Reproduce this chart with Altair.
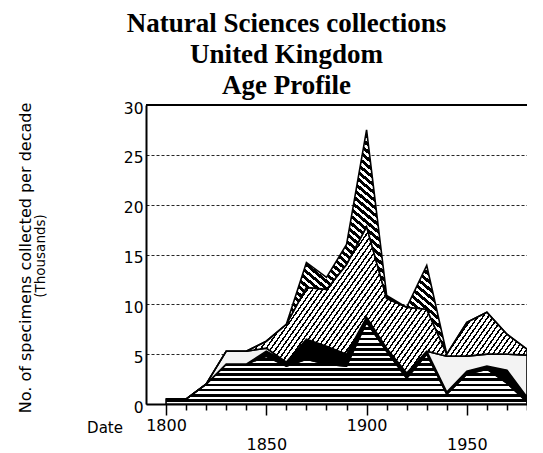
import altair as alt
import numpy as np
import pandas as pd

# ---- data (thousands of specimens per decade) ----
years = [1800, 1810, 1820, 1830, 1840, 1850, 1860, 1870, 1880, 1890,
         1900, 1910, 1920, 1930, 1940, 1950, 1960, 1970, 1980]
horizontal = [0.5, 0.5, 2.0, 4.0, 4.0, 4.8, 3.8, 4.5, 4.0, 3.8,
              8.2, 5.3, 2.6, 5.0, 1.0, 3.0, 3.5, 2.1, 0.2]
solid = [0, 0, 0, 0, 0, 0.5, 0.4, 2.0, 1.8, 1.2,
         0.5, 0.3, 0.5, 0.3, 0.2, 0.3, 0.3, 1.3, 0.5]
dotted = [0, 0, 0, 1.3, 1.3, 0.3, 0, 0, 0, 0,
          0, 0, 0, 0, 3.6, 1.5, 1.2, 1.6, 4.2]
fine = [0, 0, 0, 0, 0, 0.7, 3.8, 5.2, 5.7, 9.0,
        9.1, 5.0, 6.6, 4.2, 0.2, 3.4, 4.2, 2.0, 0.6]
bold = [0, 0, 0, 0, 0, 0, 0, 2.5, 1.2, 2.0,
        9.7, 0.3, 0, 4.4, 0, 0, 0, 0, 0]

series_names = ["horizontal", "solid", "dotted", "fine", "bold"]
series_vals = [horizontal, solid, dotted, fine, bold]

y_ticks = [0, 5, 10, 15, 20, 25, 30]
x_ticks = list(range(1800, 1981, 10))

title_lines = ["Natural Sciences collections", "United Kingdom", "Age Profile"]
y_title_1 = "No. of specimens collected per decade"
y_title_2 = "(Thousands)"
x_title = "Date"

rows = []
for order, (name, vals) in enumerate(zip(series_names, series_vals)):
    for yr, v in zip(years, vals):
        rows.append({"year": yr, "value": v, "series": name, "order": order})
df = pd.DataFrame(rows)

# ---- geometry (style only) ----
W_PLOT, H_PLOT = 381, 299
X_DOM = [1790, 1980]
Y_DOM = [0, 30]


def px_x(v):
    return (v - X_DOM[0]) / (X_DOM[1] - X_DOM[0]) * W_PLOT


def px_y(v):
    return H_PLOT - (v - Y_DOM[0]) / (Y_DOM[1] - Y_DOM[0]) * H_PLOT


def stripe_stops(n, ink, c_ink="black", c_bg="white"):
    stops = []
    for i in range(n):
        a, b, c = i / n, (i + ink) / n, (i + 1) / n
        stops += [(a, c_ink), (b, c_ink), (b, c_bg), (c, c_bg)]
    return [alt.GradientStop(offset=round(o, 5), color=col) for o, col in stops]


def horiz_gradient(H, period, ink):
    n = max(1, int(round(H / period)))
    return alt.Gradient(gradient="linear", x1=0, y1=0, x2=0, y2=1,
                        stops=stripe_stops(n, ink))


def hatch_gradient(W, H, theta_deg, period, ink, direction="/"):
    t = np.radians(theta_deg)
    s, c = np.sin(t), np.cos(t)
    D = W * s + H * c
    k = D / (W * W * s * s + H * H * c * c)
    n = max(1, int(round(D / period)))
    if direction == "/":
        return alt.Gradient(gradient="linear", x1=0, y1=0,
                            x2=float(k * W * s), y2=float(k * H * c),
                            stops=stripe_stops(n, ink))
    return alt.Gradient(gradient="linear", x1=0, y1=1,
                        x2=float(k * W * s), y2=float(1 - k * H * c),
                        stops=stripe_stops(n, ink))


arr = np.array(series_vals, dtype=float)
cum_top = np.cumsum(arr, axis=0)
cum_bot = cum_top - arr
bbox = []
for i in range(len(series_names)):
    W = px_x(max(years)) - px_x(min(years))
    H = px_y(cum_bot[i].min()) - px_y(cum_top[i].max())
    bbox.append((W, max(H, 1.0)))

fills = {
    "horizontal": horiz_gradient(bbox[0][1], 5.0, 0.55),
    "solid": "black",
    "dotted": "#f3f3f3",
    "fine": hatch_gradient(*bbox[3], 55, 4.2, 0.35, "/"),
    "bold": hatch_gradient(*bbox[4], 40, 5.5, 0.55, "\\"),
}

FONT = "DejaVu Sans"

x_enc = alt.X(
    "year:Q",
    scale=alt.Scale(domain=X_DOM, nice=False, zero=False),
    axis=alt.Axis(
        values=x_ticks, format="d", title=None, grid=False,
        labelExpr="datum.value % 50 == 0 ? datum.label : ''",
        tickColor="black", tickWidth=1.5,
        tickSize={"condition": {"test": "datum.value % 50 == 0", "value": 11}, "value": 6},
        labelPadding={"condition": {"test": "datum.value % 100 == 50", "value": 21}, "value": 2},
        domainColor="black", domainWidth=2,
        labelFont=FONT, labelFontSize=16, labelColor="black",
        labelFlush=False, labelOverlap=False,
    ),
)
y_axis = alt.Axis(
    values=y_ticks, title=None, ticks=False,
    grid=True, gridColor="black", gridDash=[3, 2], gridWidth=1.2, gridOpacity=0.85,
    domainColor="black", domainWidth=2,
    labelFont=FONT, labelFontSize=15.5, labelColor="black", labelPadding=3,
    labelOffset=3,
)
y_scale = alt.Scale(domain=Y_DOM, nice=False)

layers = []
for i, name in enumerate(series_names):
    layer = (
        alt.Chart(df)
        .transform_stack(stack="value", groupby=["year"],
                         sort=[alt.SortField("order", order="ascending")],
                         as_=["v0", "v1"])
        .transform_filter(alt.datum.series == name)
        .mark_area(fill=fills[name], stroke="black", strokeWidth=1.6,
                   strokeJoin="miter", interpolate="linear")
        .encode(x=x_enc,
                y=alt.Y("v1:Q", scale=y_scale, axis=y_axis),
                y2="v0:Q")
    )
    layers.append(layer)

top_rule = alt.Chart(pd.DataFrame({"v": [30]})).mark_rule(
    color="black", strokeWidth=2).encode(y=alt.Y("v:Q", scale=y_scale, axis=y_axis))

ytitle1 = alt.Chart(pd.DataFrame({"t": [y_title_1]})).mark_text(
    angle=270, font=FONT, fontSize=16, color="black", align="center", baseline="middle"
).encode(text="t:N", x=alt.value(-120), y=alt.value(153))
ytitle2 = alt.Chart(pd.DataFrame({"t": [y_title_2]})).mark_text(
    angle=270, font=FONT, fontSize=13.5, color="black", align="center", baseline="middle"
).encode(text="t:N", x=alt.value(-105), y=alt.value(151))
xtitle = alt.Chart(pd.DataFrame({"t": [x_title]})).mark_text(
    font=FONT, fontSize=15, color="black", align="center", baseline="middle"
).encode(text="t:N", x=alt.value(-41), y=alt.value(323))

chart = (
    alt.layer(*layers, top_rule, ytitle1, ytitle2, xtitle)
    .properties(
        width=W_PLOT, height=H_PLOT,
        title=alt.Title(text=title_lines, font="Liberation Serif", fontSize=27,
                        fontWeight="bold", color="black", anchor="middle",
                        dx=-50, lineHeight=31, offset=1),
        padding={"left": 138, "top": 97, "right": 0, "bottom": 55},
        autosize=alt.AutoSizeParams(type="none"),
    )
    .configure_view(stroke=None)
    .configure(background="white")
)

chart.save("out.html", embed_options={"renderer": "svg", "actions": False})
